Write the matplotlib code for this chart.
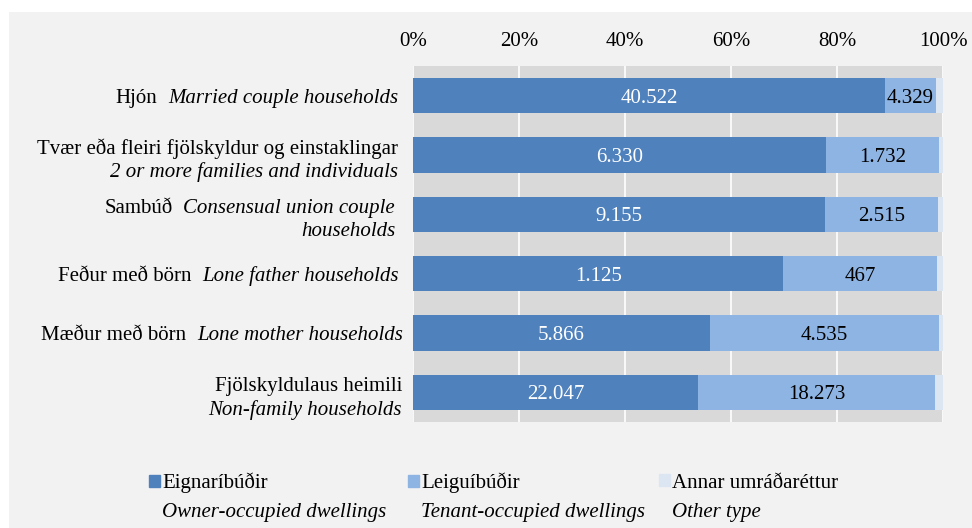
import matplotlib
matplotlib.use('Agg')
import matplotlib.pyplot as plt
import numpy as np
from matplotlib.patches import Rectangle

# categories (top to bottom)
cat_is = ['Hjón', 'Tvær eða fleiri fjölskyldur og einstaklingar', 'Sambúð',
          'Feður með börn', 'Mæður með börn', 'Fjölskyldulaus heimili']
cat_en = ['Married couple households', '2 or more families and individuals',
          'Consensual union couple\nhouseholds', 'Lone father households',
          'Lone mother households', 'Non-family households']
# True -> Icelandic and English share the first line
one_line = [True, False, True, True, True, False]

owner = [40522, 6330, 9155, 1125, 5866, 22047]
tenant = [4329, 1732, 2515, 467, 4535, 18273]
other = [620, 60, 110, 18, 75, 640]   # estimated, no labels shown

series_is = ['Eignaríbúðir', 'Leiguíbúðir', 'Annar umráðaréttur']
series_en = ['Owner-occupied dwellings', 'Tenant-occupied dwellings', 'Other type']
colors = ['#4F81BD', '#8EB4E3', '#DCE6F2']

FONT = 'Liberation Serif'
FS = 15
W, H = 972, 528

fig = plt.figure(figsize=(W / 100, H / 100), dpi=100, facecolor='white')
fig.patches.append(Rectangle((9 / W, 0), 1, 1 - 12 / H, transform=fig.transFigure,
                             facecolor='#F2F2F2', edgecolor='none', zorder=-10))
ax = fig.add_axes([413 / W, 1 - 422 / H, 530 / W, 356 / H])
ax.set_facecolor('#D9D9D9')

data = np.array([owner, tenant, other], dtype=float)
pct = data / data.sum(axis=0) * 100
y = np.arange(len(cat_is))
left = np.zeros(len(cat_is))
for i in range(3):
    ax.barh(y, pct[i], left=left, height=0.59, color=colors[i], zorder=3)
    if i < 2:
        vals = owner if i == 0 else tenant
        for j, v in enumerate(vals):
            ax.text(left[j] + pct[i][j] / 2, y[j], f'{v:,}'.replace(',', '.'),
                    ha='center', va='center_baseline', fontsize=FS, family=FONT,
                    color='white' if i == 0 else 'black', zorder=4)
    left += pct[i]

ax.set_xlim(0, 100)
ax.set_ylim(len(cat_is) - 0.5, -0.5)
ax.xaxis.tick_top()
ax.set_xticks(np.arange(0, 101, 20))
ax.set_xticklabels([f'{t}%' for t in range(0, 101, 20)], family=FONT, fontsize=FS)
ax.tick_params(axis='x', length=0, pad=11)
ax.set_yticks([])
ax.grid(axis='x', color='white', linewidth=1.2, zorder=1)
for s in ax.spines.values():
    s.set_visible(False)

# category labels: Icelandic upright, English italic
label_right = [398, 398, 395, 399, 403, 402]
fig.canvas.draw()
r = fig.canvas.get_renderer()
inv = fig.transFigure.inverted()
up, down = 8.5 / H, 15 / H
gap = 11 / W


def put(x, yy, s, italic=False):
    return fig.text(x, yy, s, ha='right', va='center_baseline', fontsize=FS,
                    family=FONT, style='italic' if italic else 'normal')


for j in range(len(cat_is)):
    yc = inv.transform(ax.transData.transform((0, y[j])))[1]
    xr = label_right[j] / W
    en_lines = cat_en[j].split('\n')
    if one_line[j]:
        y1 = yc if len(en_lines) == 1 else yc + up
        t = put(xr, y1, en_lines[0], italic=True)
        x0 = inv.transform((t.get_window_extent(r).x0, 0))[0]
        put(x0 - gap, y1, cat_is[j])
        if len(en_lines) > 1:
            put(xr, yc - down, en_lines[1], italic=True)
    else:
        put(xr, yc + up, cat_is[j])
        put(xr, yc - down, cat_en[j], italic=True)

# legend: one entry per column, English line in italics below
leg_x = [149, 408, 659]
for c, lab, en, lx in zip(colors, series_is, series_en, leg_x):
    leg = fig.legend([Rectangle((0, 0), 1, 1, color=c)], [lab], loc='center left',
                     bbox_to_anchor=(lx / W, 1 - 483 / H), frameon=False,
                     prop={'family': FONT, 'size': FS}, borderpad=0, borderaxespad=0,
                     handlelength=0.55, handleheight=0.55, handletextpad=0.08)
    fig.canvas.draw()
    tx0 = inv.transform((leg.get_texts()[0].get_window_extent(r).x0, 0))[0]
    fig.text(tx0, 1 - 510 / H, en, ha='left', va='center_baseline', fontsize=FS,
             family=FONT, style='italic')

fig.savefig('out.png', dpi=100, facecolor=fig.get_facecolor())
